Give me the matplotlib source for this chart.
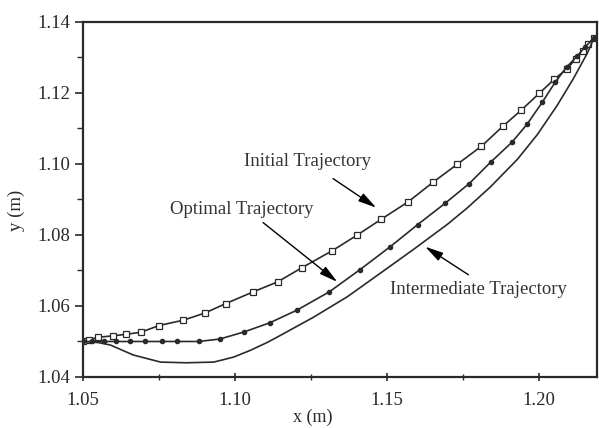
import matplotlib
matplotlib.use("Agg")
import matplotlib.pyplot as plt
from matplotlib.ticker import MultipleLocator

plt.rcParams['font.family'] = ['Liberation Serif', 'DejaVu Serif']

# Initial trajectory (open squares)
init_x = [1.050, 1.052, 1.055, 1.060, 1.064, 1.069, 1.075, 1.083, 1.090, 1.097,
          1.106, 1.114, 1.122, 1.132, 1.140, 1.148, 1.157, 1.165, 1.173, 1.181,
          1.188, 1.194, 1.200, 1.205, 1.209, 1.212, 1.2145, 1.216, 1.218]
init_y = [1.0500, 1.0505, 1.0512, 1.0516, 1.0520, 1.0526, 1.0545, 1.0560, 1.0580, 1.0607,
          1.0640, 1.0668, 1.0708, 1.0756, 1.0799, 1.0844, 1.0894, 1.0948, 1.0999, 1.1050,
          1.1106, 1.1151, 1.1199, 1.1239, 1.1267, 1.1296, 1.1318, 1.1338, 1.1355]

# Optimal trajectory (dots)
opt_x = [1.050, 1.053, 1.057, 1.061, 1.0655, 1.0705, 1.076, 1.081, 1.088, 1.095,
         1.103, 1.1115, 1.1205, 1.131, 1.141, 1.151, 1.160, 1.169, 1.177, 1.184,
         1.191, 1.196, 1.201, 1.2053, 1.209, 1.2125, 1.215, 1.218]
opt_y = [1.0500, 1.0500, 1.0500, 1.0500, 1.0500, 1.0500, 1.0500, 1.0500, 1.0500, 1.0507,
         1.0527, 1.0553, 1.0589, 1.0640, 1.0702, 1.0767, 1.0829, 1.0889, 1.0945, 1.1005,
         1.1061, 1.1112, 1.1174, 1.1231, 1.1273, 1.1304, 1.1329, 1.1355]

# Intermediate trajectory (plain line)
mid_x = [1.050, 1.055, 1.059, 1.0665, 1.0755, 1.084, 1.093, 1.0995, 1.105, 1.1105,
         1.1155, 1.1257, 1.1369, 1.1477, 1.1586, 1.1698, 1.1763, 1.1839, 1.1928, 1.1993,
         1.2059, 1.2112, 1.2158, 1.218]
mid_y = [1.0500, 1.0497, 1.0490, 1.0462, 1.0442, 1.0440, 1.0442, 1.0456, 1.0475, 1.0497,
         1.0520, 1.0568, 1.0626, 1.0692, 1.0759, 1.0830, 1.0876, 1.0935, 1.1013, 1.1082,
         1.1165, 1.1240, 1.1312, 1.1355]

labels = ["Initial Trajectory", "Optimal Trajectory", "Intermediate Trajectory"]

fig = plt.figure(figsize=(5.99, 4.28), dpi=100)
ax = fig.add_axes([0.1386, 0.1192, 0.8581, 0.8294])

lc = '#2a2a2a'
ax.plot(init_x, init_y, color=lc, lw=1.2, marker='s', ms=4.5, mfc='white', mec=lc, mew=0.9)
ax.plot(opt_x, opt_y, color=lc, lw=1.2, marker='o', ms=3, mfc=lc, mec=lc)
ax.plot(mid_x, mid_y, color=lc, lw=1.2)

ax.set_xlim(1.05, 1.219)
ax.set_ylim(1.04, 1.14)
ax.xaxis.set_major_locator(MultipleLocator(0.05))
ax.xaxis.set_minor_locator(MultipleLocator(0.025))
ax.yaxis.set_major_locator(MultipleLocator(0.02))
ax.yaxis.set_minor_locator(MultipleLocator(0.01))
ax.xaxis.set_major_formatter(plt.FormatStrFormatter('%.2f'))
ax.yaxis.set_major_formatter(plt.FormatStrFormatter('%.2f'))
ax.tick_params(axis='x', which='both', direction='inout', labelsize=13.5, colors=lc, pad=8)
ax.tick_params(axis='y', which='both', direction='out', labelsize=13.5, colors=lc)
ax.tick_params(which='major', length=6, width=1.2)
ax.tick_params(which='minor', length=4, width=1.0)
for s in ax.spines.values():
    s.set_linewidth(1.6)
    s.set_color(lc)

ax.set_xlabel("x (m)", fontsize=13, color=lc)
ax.set_ylabel("y (m)", fontsize=13.5, color=lc)
ax.xaxis.set_label_coords(0.447, -0.090)
ax.yaxis.set_label_coords(-0.112, 0.468)

arrow = dict(arrowstyle='-|>,head_length=1.1,head_width=0.28', color='black', lw=1.0,
             shrinkA=0, shrinkB=0)
tc = '#333333'
ax.text(1.1237, 1.1007, labels[0], fontsize=13.5, ha='center', va='center', color=tc)
ax.annotate("", xy=(1.1464, 1.0877), xytext=(1.1322, 1.0959), arrowprops=arrow)
ax.text(1.1023, 1.0872, labels[1], fontsize=13.5, ha='center', va='center', color=tc)
ax.annotate("", xy=(1.1336, 1.0668), xytext=(1.1092, 1.0835), arrowprops=arrow)
ax.text(1.1800, 1.0646, labels[2], fontsize=13.5, ha='center', va='center', color=tc)
ax.annotate("", xy=(1.1625, 1.0767), xytext=(1.1767, 1.0688), arrowprops=arrow)

fig.savefig("out.png", dpi=100)
